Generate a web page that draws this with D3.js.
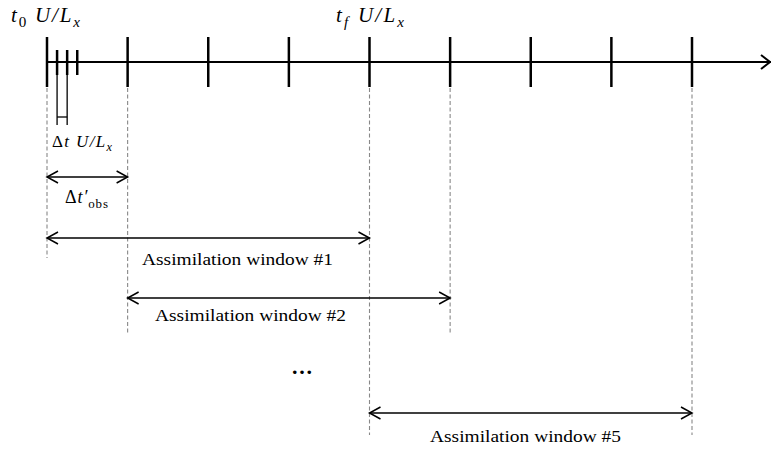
<!DOCTYPE html>
<html>
<head>
<meta charset="utf-8">
<script src="https://cdn.jsdelivr.net/npm/d3@7"></script>
<style>
  html, body { margin: 0; padding: 0; background: #fff; }
  svg { display: block; }
</style>
</head>
<body>
<svg id="chart" width="771" height="451"></svg>
<script>
// ---- data (in units of the observation interval Δt'obs) ----
const majorTicks = [0, 1, 2, 3, 4, 5, 6, 7, 8];
const minorTicks = [0.125, 0.25, 0.375];
const stepMarks = [0.125, 0.25];           // the Δt bracket
const obsInterval = [0, 1];                 // Δt'obs arrow
const windowLabels = ["Assimilation window #1", "Assimilation window #2", "Assimilation window #5"];
const windowStarts = [0, 1, 4];
const windowEnds = [4, 5, 8];
const axisEnd = 9.0;

// ---- layout ----
const svg = d3.select("#chart");
const x = d3.scaleLinear().domain([0, 8]).range([47, 692]);
const axisY = 62;
const rowY = [238, 298, 413];          // arrow rows for windows
const rowBottom = [258, 333, 435];     // dashed guide ends
const labelStart = [142, 155, 430];    // label start x (px)
const labelBase = [265, 321, 442];
const serif = "Liberation Serif, DejaVu Serif, serif";

// open chevron arrow heads
function arrowHead(g, xt, y, dir) {
  const L = 11, H = 6;
  g.append("path")
    .attr("d", `M${xt - dir * L},${y - H} L${xt},${y} L${xt - dir * L},${y + H}`)
    .attr("fill", "none").attr("stroke", "#000").attr("stroke-width", 1.5);
}
function doubleArrow(x1, x2, y) {
  const g = svg.append("g");
  g.append("line").attr("x1", x1).attr("x2", x2).attr("y1", y).attr("y2", y)
    .attr("stroke", "#000").attr("stroke-width", 1.6);
  arrowHead(g, x1, y, -1);
  arrowHead(g, x2, y, 1);
}

// ---- dashed guides ----
const guides = [];
windowStarts.forEach((s, i) => {
  guides.push({ v: s, bottom: rowBottom[i] });
  guides.push({ v: windowEnds[i], bottom: rowBottom[i] });
});
const guideMap = d3.rollup(guides, v => d3.max(v, d => d.bottom), d => d.v);
svg.append("g").selectAll("line").data(Array.from(guideMap)).join("line")
  .attr("x1", d => x(d[0])).attr("x2", d => x(d[0]))
  .attr("y1", 88).attr("y2", d => d[1])
  .attr("stroke", "#888").attr("stroke-width", 1.1)
  .attr("stroke-dasharray", "4,2.5");

// ---- main axis ----
svg.append("line").attr("x1", x(0)).attr("x2", x(axisEnd) - 1)
  .attr("y1", axisY).attr("y2", axisY)
  .attr("stroke", "#000").attr("stroke-width", 2);
{
  const g = svg.append("g");
  const xt = Math.min(x(axisEnd), 770);
  g.append("path").attr("d", `M${xt - 9},${axisY - 7} L${xt},${axisY} L${xt - 9},${axisY + 7}`)
    .attr("fill", "none").attr("stroke", "#000").attr("stroke-width", 2);
}
svg.append("g").selectAll("line").data(majorTicks).join("line")
  .attr("x1", d => x(d)).attr("x2", d => x(d))
  .attr("y1", 37).attr("y2", 87)
  .attr("stroke", "#000").attr("stroke-width", 2.5);
svg.append("g").selectAll("line").data(minorTicks).join("line")
  .attr("x1", d => x(d)).attr("x2", d => x(d))
  .attr("y1", 50).attr("y2", 75)
  .attr("stroke", "#000").attr("stroke-width", 2.5);

// Δt bracket
svg.append("g").selectAll("line").data(stepMarks).join("line")
  .attr("x1", d => x(d)).attr("x2", d => x(d))
  .attr("y1", 75).attr("y2", 125)
  .attr("stroke", "#000").attr("stroke-width", 1.3);
svg.append("line").attr("x1", x(stepMarks[0])).attr("x2", x(stepMarks[1]))
  .attr("y1", 117).attr("y2", 117).attr("stroke", "#000").attr("stroke-width", 1.3);

// ---- math labels ----
function mathLabel(xp, yp, size, parts, width) {
  const t = svg.append("text").attr("x", xp).attr("y", yp)
    .attr("font-family", serif).attr("font-size", size).attr("fill", "#000");
  parts.forEach(p => {
    const ts = t.append("tspan").text(p.t);
    if (p.i) ts.attr("font-style", "italic");
    if (p.sub) ts.attr("font-size", size * 0.72).attr("dy", size * 0.25);
    if (p.up) ts.attr("dy", -size * 0.25);
  });
  if (width) t.attr("textLength", width).attr("lengthAdjust", "spacing");
  return t;
}
mathLabel(11, 22, 21, [
  { t: "t", i: true }, { t: "0", sub: true }, { t: " U/L", i: true, up: true }, { t: "x", i: true, sub: true }
], 69);
mathLabel(336, 22, 21, [
  { t: "t", i: true }, { t: "f", i: true, sub: true }, { t: " U/L", i: true, up: true }, { t: "x", i: true, sub: true }
], 68);
mathLabel(52, 147, 17, [
  { t: "Δ" }, { t: "t U/L", i: true }, { t: "x", i: true, sub: true }
], 60);
mathLabel(65, 203, 18, [
  { t: "Δ" }, { t: "t′", i: true }, { t: "obs", sub: true }
], 43);

// Δt'obs arrow
doubleArrow(x(obsInterval[0]), x(obsInterval[1]), 177);

// ---- assimilation windows ----
windowLabels.forEach((lab, i) => {
  doubleArrow(x(windowStarts[i]), x(windowEnds[i]), rowY[i]);
  svg.append("text").attr("x", labelStart[i]).attr("y", labelBase[i])
    .attr("font-family", serif).attr("font-size", 17.5)
    .attr("textLength", 191).attr("lengthAdjust", "spacingAndGlyphs")
    .text(lab);
});

// ellipsis
svg.append("text").attr("x", 292).attr("y", 374)
  .attr("font-family", serif).attr("font-size", 22).attr("font-weight", "bold")
  .attr("textLength", 20).attr("lengthAdjust", "spacing")
  .text("...");
</script>
</body>
</html>
